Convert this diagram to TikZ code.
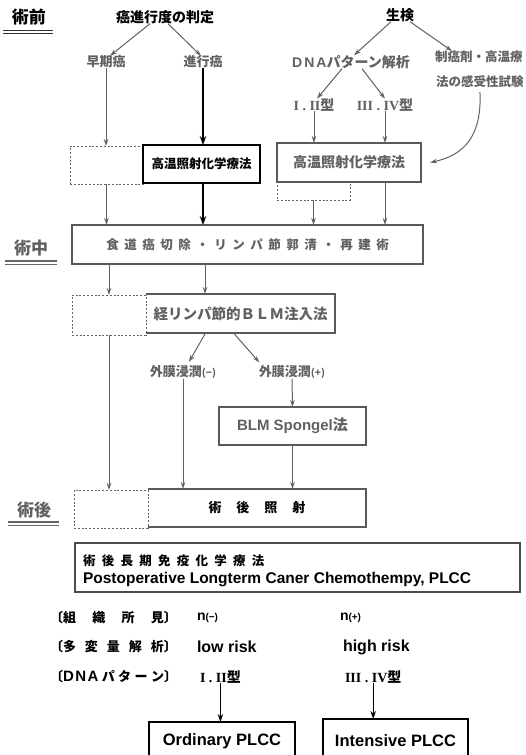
\documentclass[tikz,border=0pt]{standalone}
\usepackage{fontspec}
\setmainfont{Noto Sans CJK JP}
\newfontfamily\lat{Liberation Sans}
\newfontfamily\srf{Liberation Serif}
\usetikzlibrary{arrows.meta,calc}
\newcommand\fsz[1]{\fontsize{#1}{#1}\selectfont}
\begin{document}
\begin{tikzpicture}[x=1pt,y=-1pt,
  every node/.style={inner sep=0pt,outer sep=0pt},
  ln/.style={draw=black!62,line width=1pt},
  arr/.style={ln,-{Stealth[length=7pt,width=4.5pt]}},
  barr/.style={draw=black,line width=1.5pt,-{Stealth[length=9pt,width=6.5pt]}},
  karr/.style={draw=black,line width=1.1pt,-{Stealth[length=8pt,width=5.5pt]}},
  gbox/.style={draw=black!65,line width=1.1pt},
  kbox/.style={draw=black,line width=1.8pt},
  dbox/.style={draw=black!60,line width=1pt,dash pattern=on 2pt off 1.8pt},
  gt/.style={text=black!62},
  kt/.style={text=black},
  ul/.style={draw=black!80,line width=1pt},
]
\useasboundingbox (0,0) rectangle (525,755);

% ---------- section labels ----------
\node[kt,font=\fsz{17}\bfseries] (pre) at (29,17) {術前};
\draw[ul,line width=1.4pt] (3,30.5) -- (53,30.5);
\draw[ul] (3,33.5) -- (53,33.5);
\node[gt,font=\fsz{17}\bfseries] (mid) at (31,248) {術中};
\draw[ul,draw=black!60,line width=1.2pt] (5,261) -- (57,261);
\draw[ul,draw=black!60] (5,264) -- (57,264);
\node[gt,font=\fsz{17}\bfseries] (postl) at (34,510) {術後};
\draw[ul,draw=black!60,line width=1.2pt] (8,522) -- (59,522);
\draw[ul,draw=black!60] (8,525) -- (59,525);

% ---------- top texts ----------
\node[kt,font=\fsz{14}\bfseries] (hantei) at (165,17) {癌進行度の判定};
\node[gt,font=\fsz{13}\bfseries] (soki) at (106,62) {早期癌};
\node[gt,font=\fsz{13}\bfseries] (shinko) at (203,62) {進行癌};
\node[kt,font=\fsz{14}\bfseries] (seiken) at (400,15) {生検};
\node[gt,font=\fsz{14}\bfseries] (dna) at (351,62) {{\lat\addfontfeature{LetterSpace=15}DNA}パターン解析};
\node[gt,font=\fsz{12.5}\bfseries,anchor=west] (seigan) at (435,57) {制癌剤・高温療};
\node[gt,font=\fsz{12.5}\bfseries,anchor=west] (kanju) at (436,82) {法の感受性試験};
\node[gt,font=\fsz{14}\bfseries] (t12) at (314,105) {{\srf I . II}型};
\node[gt,font=\fsz{14}\bfseries] (t34) at (385,105) {{\srf III . IV}型};

\draw[arr] ([xshift=-15]hantei.south) -- ([xshift=4]soki.north);
\draw[arr] ([xshift=3]hantei.south) -- ([xshift=-2]shinko.north);
\draw[arr] ([xshift=-9]seiken.south) -- ([xshift=3]dna.north);
\draw[arr] ([xshift=10]seiken.south) -- ([xshift=17]seigan.north west);
\draw[arr] ([xshift=-9]dna.south) -- ([xshift=3]t12.north);
\draw[arr] ([xshift=11]dna.south) -- (t34.north);

% ---------- first row of boxes ----------
\node[dbox,minimum width=73,minimum height=38] (db1) at (106.5,165) {};
\node[kbox,fill=white,minimum width=117,minimum height=38,kt,font=\fsz{12.5}\bfseries] (k1) at (201.5,164) {高温照射化学療法};
\node[dbox,minimum width=73,minimum height=18] (db2) at (313.5,191) {};
\node[gbox,fill=white,minimum width=144,minimum height=39,gt,font=\fsz{14}\bfseries] (k2) at (349,162.5) {高温照射化学療法};

\draw[arr] (soki.south) -- (soki.south |- db1.north);
\draw[barr] (shinko.south) -- (shinko.south |- k1.north);
\draw[arr] (t12.south) -- (t12.south |- k2.north);
\draw[arr] (t34.south) -- (t34.south |- k2.north);
\draw[arr,shorten <=4pt] (kanju.south) .. controls (482,135) and (465,155) .. ([xshift=9]k2.east);

% ---------- surgery ----------
\node[gbox,minimum width=351,minimum height=39,gt,font=\fsz{12.5}\bfseries] (big) at (247.5,244.5) {\addfontfeature{LetterSpace=44}食道癌切除・リンパ節郭清・再建術};

\draw[arr] (db1.south) -- (db1.south |- big.north);
\draw[barr] (shinko.south |- k1.south) -- (shinko.south |- big.north);
\draw[arr] (db2.south) -- (db2.south |- big.north);
\draw[arr] (t34.south |- k2.south) -- (t34.south |- big.north);

\node[dbox,minimum width=74,minimum height=40] (db3) at (109,315) {};
\node[minimum width=189,minimum height=39,gt,font=\fsz{14.5}\bfseries] (blm) at (240.5,313.5) {経リンパ節的ＢＬＭ注入法};
\draw[gbox] (blm.north west) -- (blm.north east) -- (blm.south east) -- (blm.south west);

\draw[arr] (db3.north |- big.south) -- (db3.north);
\draw[arr] ([xshift=-35.5]blm.north |- big.south) -- ([xshift=-35.5]blm.north);

\node[gt,font=\fsz{13}\bfseries] (gmn) at (183,372) {外膜浸潤{\fsz{10}(−)}};
\node[gt,font=\fsz{13}\bfseries] (gmp) at (292,372) {外膜浸潤{\fsz{10}(+)}};
\draw[arr,shorten >=4pt] ([xshift=-35]blm.south) -- ([xshift=4]gmn.north);
\draw[arr,shorten >=4pt] ([xshift=-7]blm.south) -- ([xshift=-30]gmp.north);

\node[gbox,minimum width=147,minimum height=38,gt,font=\fsz{15}\bfseries] (spg) at (292.5,426) {{\lat\bfseries BLM Spongel}法};
\draw[arr] (gmp.south) -- (spg.north);

% ---------- post-op irradiation ----------
\node[dbox,minimum width=74,minimum height=38] (db4) at (111,509) {};
\node[minimum width=218,minimum height=38,kt,font=\fsz{13}\bfseries] (post) at (257,508) {術\hspace{15pt}後\hspace{15pt}照\hspace{15pt}射};
\draw[gbox] (post.north west) -- (post.north east) -- (post.south east) -- (post.south west);

\draw[arr] (db3.south) -- (db3.south |- db4.north);
\draw[arr] (gmn.south) -- (gmn.south |- post.north);
\draw[arr] (spg.south) -- (spg.south |- post.north);

% ---------- PLCC ----------
\node[gbox,draw=black!70,minimum width=445,minimum height=49] (plcc) at (297.5,567.5) {};
\node[kt,font=\fsz{12.5}\bfseries,anchor=west] (pj) at (83,561) {\addfontfeature{LetterSpace=50}術後長期免疫化学療法};
\node[kt,font=\lat\bfseries\fsz{15.5},anchor=west] (pe) at (83,580) {Postoperative Longterm Caner Chemothempy, PLCC};

\node[kt,font=\fsz{13}\bfseries,anchor=west] (l1) at (50,618) {\hbox to 127pt{〔組\hfill 織\hfill 所\hfill 見〕}};
\node[kt,font=\fsz{13}\bfseries,anchor=west] (l2) at (50,647) {\hbox to 127pt{〔多\hfill 変\hfill 量\hfill 解\hfill 析〕}};
\node[kt,font=\fsz{13}\bfseries,anchor=west] (l3) at (50,677) {\hbox to 127pt{〔{\lat\fsz{15}\addfontfeature{LetterSpace=10}DNA}\hfill パ\hfill タ\hfill ー\hfill ン〕}};

\node[kt,font=\lat\bfseries\fsz{14},anchor=west] (v1) at (197,618) {n{\fsz{10}(−)}};
\node[kt,font=\lat\bfseries\fsz{16},anchor=west] (v2) at (197,647) {low risk};
\node[kt,font=\fsz{14}\bfseries,anchor=west] (v3) at (200,677) {{\srf\bfseries I . II}型};
\node[kt,font=\lat\bfseries\fsz{14},anchor=west] (r1) at (340,618) {n{\fsz{10}(+)}};
\node[kt,font=\lat\bfseries\fsz{16},anchor=west] (r2) at (343,647) {high risk};
\node[kt,font=\fsz{14}\bfseries,anchor=west] (r3) at (345,677) {{\srf\bfseries III . IV}型};

\node[draw=black,line width=1.3pt,minimum width=146,minimum height=38,kt,font=\lat\bfseries\fsz{16.5}] (ord) at (222,741) {Ordinary PLCC};
\node[draw=black,line width=1.3pt,minimum width=145,minimum height=44,kt,font=\lat\bfseries\fsz{16.5}] (int) at (395.5,741) {Intensive PLCC};

\draw[karr] (v3.south) -- (v3.south |- ord.north);
\draw[karr] (r3.south) -- (r3.south |- int.north);
\end{tikzpicture}
\end{document}
